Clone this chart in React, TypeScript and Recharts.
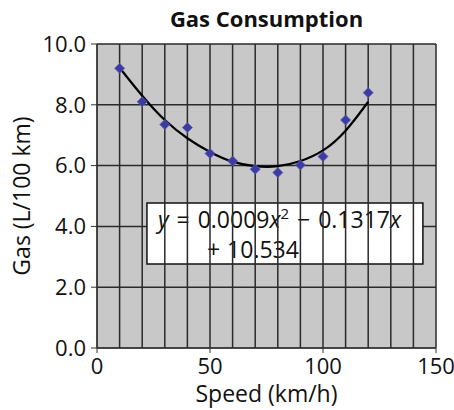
import React from 'react';
import {
  ComposedChart,
  Scatter,
  Line,
  XAxis,
  YAxis,
  CartesianGrid,
  ReferenceLine,
  ReferenceArea,
} from 'recharts';

const speeds = [10, 20, 30, 40, 50, 60, 70, 80, 90, 100, 110, 120];
const gasValues = [9.2, 8.1, 7.35, 7.25, 6.4, 6.15, 5.88, 5.77, 6.02, 6.3, 7.5, 8.4];

const trendSpeeds = [10, 20, 30, 40, 50, 60, 70, 80, 90, 100, 110, 120];
const trendGas = [9.22, 8.3, 7.5, 6.9, 6.45, 6.13, 5.98, 5.98, 6.15, 6.5, 7.15, 8.1];

const xTicks = [0, 50, 100, 150];
const yTicks = [0, 2, 4, 6, 8, 10];
const gridSpeeds = [0, 10, 20, 30, 40, 50, 60, 70, 80, 90, 100, 110, 120, 130, 140, 150];

const points = speeds.map((s, i) => ({ x: s, y: gasValues[i] }));
const trend = trendSpeeds.map((s, i) => ({ x: s, t: trendGas[i] }));

const FONT = '"Open Sans", "DejaVu Sans", sans-serif';

const EquationLabel = (props: any) => {
  const vb = props.viewBox || {};
  const x = vb.x ?? 0;
  const y = vb.y ?? 0;
  return (
    <g>
      <text x={x + 11} y={y + 25} fontSize={23} fontFamily={FONT} fill="#111">
        <tspan fontStyle="italic">y</tspan>
        <tspan dx={2}> = </tspan>
        <tspan dx={2}>0.0009</tspan>
        <tspan fontStyle="italic">x</tspan>
        <tspan fontSize={15} dy={-9}>2</tspan>
        <tspan dy={9} dx={2}> − </tspan>
        <tspan dx={2}>0.1317</tspan>
        <tspan fontStyle="italic">x</tspan>
      </text>
      <text x={x + 60} y={y + 55} fontSize={23} fontFamily={FONT} fill="#111">
        <tspan>+</tspan>
        <tspan dx={7}>10.534</tspan>
      </text>
    </g>
  );
};

const DiamondDot = (props: any) => {
  const { cx, cy } = props;
  if (cx == null || cy == null) return null;
  const r = 5;
  return (
    <polygon
      points={`${cx},${cy - r} ${cx + r},${cy} ${cx},${cy + r} ${cx - r},${cy}`}
      fill="#3b3ba0"
      stroke="#5a5ab8"
      strokeWidth={0.8}
      strokeLinejoin="round"
    />
  );
};

export default function App() {
  return (
    <div style={{ position: 'absolute', left: 0, top: 0, width: 454, height: 410, background: '#fff' }}>
      <div
        style={{
          position: 'absolute',
          left: 97,
          width: 339,
          top: 4,
          textAlign: 'center',
          fontFamily: FONT,
          fontWeight: 700,
          fontSize: 22,
          color: '#111',
          lineHeight: '28px',
        }}
      >
        Gas Consumption
      </div>
      <ComposedChart
        width={454}
        height={410}
        margin={{ top: 44, right: 18, bottom: 0, left: 0 }}
        style={{ position: 'absolute', left: 0, top: 0 }}
      >
        <CartesianGrid
          vertical={false}
          horizontal={true}
          stroke="#2a2a2a"
          strokeWidth={1.5}
          fill="#c8c8c8"
          fillOpacity={1}
        />
        {gridSpeeds.map((g) => (
          <ReferenceLine key={g} x={g} stroke="#2a2a2a" strokeWidth={1.5} ifOverflow="visible" />
        ))}
        <XAxis
          type="number"
          dataKey="x"
          domain={[0, 150]}
          ticks={xTicks}
          height={62}
          tickSize={5}
          tickMargin={5}
          stroke="#333"
          tick={{ fontSize: 22, fontFamily: FONT, fill: '#111' }}
          label={{
            value: 'Speed (km/h)',
            position: 'insideBottom',
            offset: 8,
            style: { fontSize: 23, fontFamily: FONT, fill: '#111' },
          }}
        />
        <YAxis
          type="number"
          domain={[0, 10]}
          ticks={yTicks}
          width={97}
          tickSize={6}
          tickMargin={5}
          stroke="#333"
          tickFormatter={(v: number) => v.toFixed(1)}
          tick={{ fontSize: 22, fontFamily: FONT, fill: '#111' }}
          label={{
            value: 'Gas (L/100 km)',
            angle: -90,
            position: 'insideLeft',
            offset: 22,
            style: { fontSize: 23, fontFamily: FONT, fill: '#111', textAnchor: 'middle' },
          }}
        />
        <Line
          data={trend}
          dataKey="t"
          type="natural"
          stroke="#000"
          strokeWidth={2.2}
          dot={false}
          activeDot={false}
          isAnimationActive={false}
        />
        <Scatter
          data={points}
          dataKey="y"
          fill="#3b3ba0"
          shape={<DiamondDot />}
          legendType="none"
          isAnimationActive={false}
        />
        <ReferenceArea
          x1={22.1}
          x2={144.2}
          y1={2.76}
          y2={4.77}
          fill="#fff"
          fillOpacity={1}
          stroke="#111"
          strokeWidth={1.5}
          ifOverflow="visible"
          label={<EquationLabel />}
        />
      </ComposedChart>
    </div>
  );
}
